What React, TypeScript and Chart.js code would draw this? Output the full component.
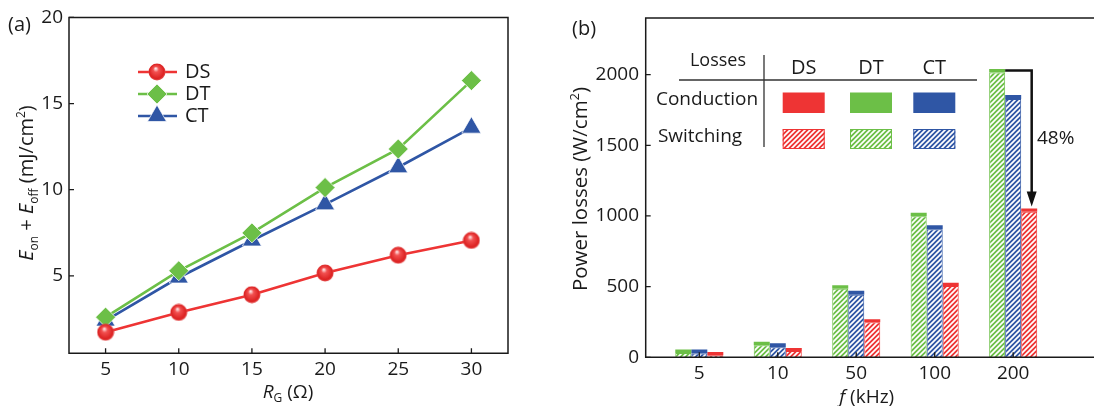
import React, { useEffect, useRef } from 'react';
import { Chart, registerables } from 'chart.js';
import { drawPoint } from 'chart.js/helpers';

Chart.register(...registerables);

const FONT = '"Open Sans", "Noto Sans", sans-serif';
const INK = '#1a1a1a';
const RED = '#ee3434';
const GREEN = '#6cbf47';
const BLUE = '#2f56a5';
const TICK_SIZE = 19;

// (a) switching energy vs gate resistance
const gateResistance = [5, 10, 15, 20, 25, 30];
const energyDS = [1.72, 2.87, 3.9, 5.16, 6.19, 7.05];
const energyDT = [2.6, 5.29, 7.49, 10.12, 12.36, 16.33];
const energyCT = [2.4, 4.9, 7.05, 9.15, 11.3, 13.6];
const energyTicks = [5, 10, 15, 20];
const resistanceTicks = [5, 10, 15, 20, 25, 30];

// (b) power losses vs switching frequency
const frequencies = ['5', '10', '50', '100', '200'];
const switchingDT = [31, 85, 485, 998, 2015];
const conductionDT = [25, 25, 25, 25, 25];
const switchingCT = [27, 71, 442, 906, 1828];
const conductionCT = [28, 28, 28, 28, 28];
const switchingDS = [15, 44, 248, 505, 1030];
const conductionDS = [22, 22, 22, 22, 22];
const lossTicks = [0, 500, 1000, 1500, 2000];
const reductionLabel = '48%';

type Seg = { t: string; it?: boolean; sub?: boolean; sup?: boolean };

function drawRich(ctx: CanvasRenderingContext2D, segs: Seg[], cx: number, cy: number, size: number, rotate = false) {
  const fontFor = (s: Seg) =>
    `${s.it ? 'italic ' : ''}${s.sub || s.sup ? Math.round(size * 0.62) : size}px ${FONT}`;
  ctx.save();
  let total = 0;
  const widths = segs.map((s) => {
    ctx.font = fontFor(s);
    const w = ctx.measureText(s.t).width;
    total += w;
    return w;
  });
  ctx.translate(cx, cy);
  if (rotate) ctx.rotate(-Math.PI / 2);
  ctx.fillStyle = INK;
  ctx.textAlign = 'left';
  ctx.textBaseline = 'alphabetic';
  let x = -total / 2;
  const base = size * 0.36;
  segs.forEach((s, i) => {
    ctx.font = fontFor(s);
    const dy = s.sub ? size * 0.24 : s.sup ? -size * 0.42 : 0;
    ctx.fillText(s.t, x, base + dy);
    x += widths[i];
  });
  ctx.restore();
}

function text(ctx: CanvasRenderingContext2D, t: string, x: number, y: number, size: number, align: CanvasTextAlign = 'center') {
  ctx.save();
  ctx.font = `${size}px ${FONT}`;
  ctx.fillStyle = INK;
  ctx.textAlign = align;
  ctx.textBaseline = 'middle';
  ctx.fillText(t, x, y);
  ctx.restore();
}

function sphere(r: number) {
  const c = document.createElement('canvas');
  c.width = c.height = 2 * r;
  const g = c.getContext('2d')!;
  const grad = g.createRadialGradient(r * 0.85, r * 0.6, r * 0.05, r, r, r);
  grad.addColorStop(0, '#ffe4e4');
  grad.addColorStop(0.28, '#f25050');
  grad.addColorStop(0.8, '#dc2222');
  grad.addColorStop(1, '#e86060');
  g.fillStyle = grad;
  g.beginPath();
  g.arc(r, r, r - 0.5, 0, Math.PI * 2);
  g.fill();
  return c;
}

function hatch(color: string) {
  const s = 5;
  const c = document.createElement('canvas');
  c.width = c.height = s;
  const g = c.getContext('2d')!;
  g.fillStyle = color;
  g.fillRect(0, 0, s, s);
  g.strokeStyle = '#ffffff';
  g.lineWidth = 1.7;
  g.beginPath();
  g.moveTo(0, s);
  g.lineTo(s, 0);
  g.moveTo(-1, 1);
  g.lineTo(1, -1);
  g.moveTo(s - 1, s + 1);
  g.lineTo(s + 1, s - 1);
  g.stroke();
  return g.createPattern(c, 'repeat')!;
}

// frame and inward tick marks
function frame(chart: any, closed = true) {
  const { ctx, chartArea: a, scales } = chart;
  ctx.save();
  ctx.strokeStyle = INK;
  ctx.lineWidth = 1.5;
  ctx.beginPath();
  if (closed) {
    ctx.rect(a.left, a.top, a.right - a.left, a.bottom - a.top);
  } else {
    const edge = chart.width;
    ctx.moveTo(edge, a.top);
    ctx.lineTo(a.left, a.top);
    ctx.lineTo(a.left, a.bottom);
    ctx.lineTo(edge, a.bottom);
  }
  ctx.stroke();
  ctx.lineWidth = 1.3;
  ctx.beginPath();
  scales.y.ticks.forEach((t: any) => {
    const y = scales.y.getPixelForValue(t.value);
    ctx.moveTo(a.left, y);
    ctx.lineTo(a.left + 5, y);
  });
  scales.x.ticks.forEach((t: any) => {
    const x = scales.x.getPixelForValue(t.value);
    ctx.moveTo(x, a.bottom);
    ctx.lineTo(x, a.bottom - 5);
  });
  ctx.stroke();
  ctx.restore();
}

function EnergyChart() {
  const ref = useRef<HTMLCanvasElement>(null);
  useEffect(() => {
    const ball = sphere(9);
    const series = [
      { label: 'DS', data: energyDS, color: RED, style: ball as any, radius: 9 },
      { label: 'DT', data: energyDT, color: GREEN, style: 'rectRot', radius: 10 },
      { label: 'CT', data: energyCT, color: BLUE, style: 'triangle', radius: 11 },
    ];
    const chart = new Chart(ref.current!, {
      type: 'line',
      data: {
        datasets: series.map((s) => ({
          label: s.label,
          data: gateResistance.map((x, i) => ({ x, y: s.data[i] })),
          borderColor: s.color,
          backgroundColor: s.color,
          borderWidth: 2.6,
          pointStyle: s.style,
          pointRadius: s.radius,
          pointBackgroundColor: s.color,
          pointBorderColor: 'rgba(255,255,255,0.7)',
          pointBorderWidth: 1,
        })),
      },
      options: {
        animation: false,
        responsive: false,
        layout: { padding: { top: 13.3, right: 32, left: 0, bottom: 0 } },
        plugins: { legend: { display: false }, tooltip: { enabled: false } },
        scales: {
          x: {
            type: 'linear',
            min: 2.5,
            max: 32.5,
            afterFit: (s: any) => { s.height = 52.7; },
            afterBuildTicks: (s: any) => { s.ticks = resistanceTicks.map((v) => ({ value: v })); },
            grid: { display: false, drawTicks: false },
            border: { display: false },
            ticks: { font: { family: FONT, size: TICK_SIZE }, color: INK, padding: 5, callback: (v: any) => String(v) },
          },
          y: {
            min: 0.5,
            max: 20,
            afterFit: (s: any) => { s.width = 69; },
            afterBuildTicks: (s: any) => { s.ticks = energyTicks.map((v) => ({ value: v })); },
            grid: { display: false, drawTicks: false },
            border: { display: false },
            ticks: { font: { family: FONT, size: TICK_SIZE }, color: INK, padding: 6, callback: (v: any) => String(v) },
          },
        },
      },
      plugins: [
        {
          id: 'decor',
          afterDraw(c: any) {
            const ctx = c.ctx;
            frame(c);
            // legend
            const rows = [72, 94, 116];
            series.forEach((s, i) => {
              const y = rows[i];
              ctx.save();
              ctx.strokeStyle = s.color;
              ctx.lineWidth = 2.6;
              ctx.beginPath();
              ctx.moveTo(138, y);
              ctx.lineTo(177, y);
              ctx.stroke();
              ctx.fillStyle = s.color;
              ctx.strokeStyle = 'rgba(255,255,255,0.7)';
              ctx.lineWidth = 1;
              drawPoint(ctx, { pointStyle: s.style, radius: s.radius, rotation: 0, borderWidth: 1 } as any, 157, y);
              ctx.restore();
              text(ctx, s.label, 185, y, 20, 'left');
            });
            text(ctx, '(a)', 8, 25, 20, 'left');
            drawRich(ctx, [
              { t: 'E', it: true }, { t: 'on', sub: true }, { t: ' + ' },
              { t: 'E', it: true }, { t: 'off', sub: true }, { t: ' (mJ/cm' }, { t: '2', sup: true }, { t: ')' },
            ], 26, 183, 20, true);
            drawRich(ctx, [{ t: 'R', it: true }, { t: 'G', sub: true }, { t: ' (Ω)' }], 288, 391, 19);
          },
        },
      ],
    });
    return () => chart.destroy();
  }, []);
  return <canvas ref={ref} width={540} height={406} style={{ position: 'absolute', left: 0, top: 0, width: 540, height: 406 }} />;
}

const OFFSET_B = 545;
const WIDTH_B = 1094 - OFFSET_B;

function LossChart() {
  const ref = useRef<HTMLCanvasElement>(null);
  useEffect(() => {
    const groups = [
      { key: 'DT', sw: switchingDT, cond: conductionDT, color: GREEN },
      { key: 'CT', sw: switchingCT, cond: conductionCT, color: BLUE },
      { key: 'DS', sw: switchingDS, cond: conductionDS, color: RED },
    ];
    const datasets: any[] = [];
    groups.forEach((g) => {
      datasets.push({
        label: `${g.key} switching`,
        stack: g.key,
        data: frequencies.map((_, i) => ({ x: i, y: g.sw[i] })),
        backgroundColor: hatch(g.color),
        borderColor: g.color,
        borderWidth: 1,
      });
      datasets.push({
        label: `${g.key} conduction`,
        stack: g.key,
        data: frequencies.map((_, i) => ({ x: i, y: g.cond[i] })),
        backgroundColor: g.color,
        borderWidth: 0,
      });
    });
    const patterns: Record<string, CanvasPattern> = {
      DS: hatch(RED), DT: hatch(GREEN), CT: hatch(BLUE),
    };
    const colors: Record<string, string> = { DS: RED, DT: GREEN, CT: BLUE };
    const chart = new Chart(ref.current!, {
      type: 'bar',
      data: { datasets },
      options: {
        animation: false,
        responsive: false,
        categoryPercentage: 0.612,
        barPercentage: 1,
        layout: { padding: { top: 17.3, right: 0, left: 0, bottom: 0 } },
        plugins: { legend: { display: false }, tooltip: { enabled: false } },
        scales: {
          x: {
            type: 'linear',
            offset: false,
            min: -0.683,
            max: 5.03,
            afterFit: (s: any) => { s.height = 48.7; },
            afterBuildTicks: (s: any) => { s.ticks = frequencies.map((_, i) => ({ value: i })); },
            grid: { display: false, drawTicks: false },
            border: { display: false },
            ticks: {
              font: { family: FONT, size: TICK_SIZE },
              color: INK,
              padding: 5,
              callback: (v: any) => frequencies[v] ?? '',
            },
          },
          y: {
            min: 0,
            max: 2400,
            afterFit: (s: any) => { s.width = 100.7; },
            afterBuildTicks: (s: any) => { s.ticks = lossTicks.map((v) => ({ value: v })); },
            grid: { display: false, drawTicks: false },
            border: { display: false },
            ticks: { font: { family: FONT, size: TICK_SIZE }, color: INK, padding: 6.7, callback: (v: any) => String(v) },
          },
        },
      },
      plugins: [
        {
          id: 'decor',
          afterDraw(c: any) {
            const ctx = c.ctx;
            frame(c, false);
            // legend table
            text(ctx, 'Losses', 173, 61, 18);
            ctx.save();
            ctx.strokeStyle = '#333';
            ctx.lineWidth = 1.3;
            ctx.beginPath();
            ctx.moveTo(134, 80);
            ctx.lineTo(432, 80);
            ctx.moveTo(219, 55);
            ctx.lineTo(219, 147);
            ctx.stroke();
            ctx.restore();
            text(ctx, 'Conduction', 162, 100, 19);
            text(ctx, 'Switching', 155, 137, 19);
            const cols: [string, number][] = [['DS', 237.7], ['DT', 305], ['CT', 368.3]];
            cols.forEach(([k, x]) => {
              text(ctx, k, x + 21, 68, 20);
              ctx.save();
              ctx.fillStyle = colors[k];
              ctx.fillRect(x, 92.5, 42, 20.5);
              ctx.fillStyle = patterns[k];
              ctx.fillRect(x, 129, 42, 20);
              ctx.strokeStyle = colors[k];
              ctx.lineWidth = 1;
              ctx.strokeRect(x + 0.5, 129.5, 41, 19);
              ctx.restore();
            });
            // reduction arrow between DT and DS at the highest frequency
            const last = frequencies.length - 1;
            const top = c.getDatasetMeta(1).data[last];
            const low = c.getDatasetMeta(5).data[last];
            const y0 = top.y + 1.5;
            const xa = low.x + 2.5;
            const tip = low.y - 2;
            ctx.save();
            ctx.strokeStyle = '#111';
            ctx.fillStyle = '#111';
            ctx.lineWidth = 2.5;
            ctx.beginPath();
            ctx.moveTo(top.x + top.width / 2, y0);
            ctx.lineTo(xa, y0);
            ctx.lineTo(xa, tip - 12);
            ctx.stroke();
            ctx.beginPath();
            ctx.moveTo(xa - 5, tip - 15);
            ctx.lineTo(xa + 5, tip - 15);
            ctx.lineTo(xa, tip);
            ctx.closePath();
            ctx.fill();
            ctx.restore();
            text(ctx, reductionLabel, 1037 - OFFSET_B, 139, 19, 'left');
            text(ctx, '(b)', 572 - OFFSET_B, 29, 20, 'left');
            drawRich(ctx, [{ t: 'Power losses (W/cm' }, { t: '2', sup: true }, { t: ')' }], 580 - OFFSET_B, 189, 20.5, true);
            drawRich(ctx, [{ t: 'f', it: true }, { t: ' (kHz)' }], 866.7 - OFFSET_B, 396, 19);
          },
        },
      ],
    });
    return () => chart.destroy();
  }, []);
  return <canvas ref={ref} width={WIDTH_B} height={406} style={{ position: 'absolute', left: OFFSET_B, top: 0, width: WIDTH_B, height: 406 }} />;
}

export default function App() {
  return (
    <div style={{ position: 'fixed', left: 0, top: 0, width: 1094, height: 406, overflow: 'hidden', background: '#fff' }}>
      <EnergyChart />
      <LossChart />
    </div>
  );
}
